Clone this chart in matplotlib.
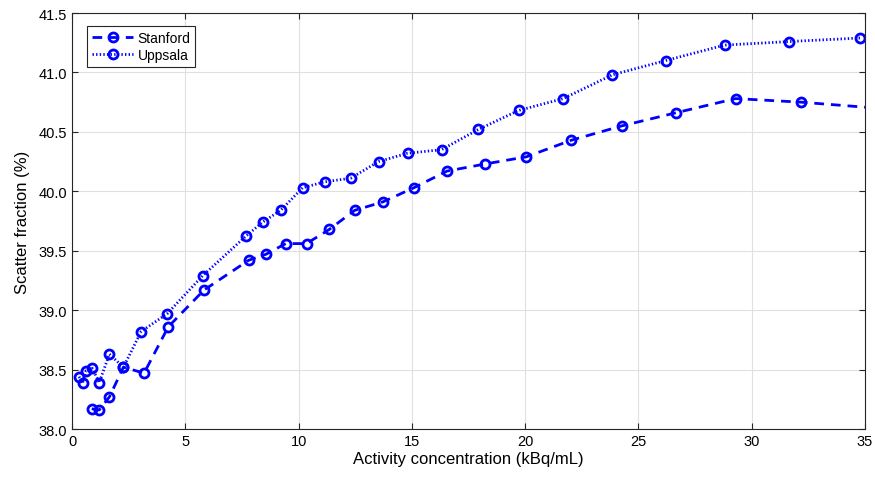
import numpy as np
import matplotlib
matplotlib.use("Agg")
import matplotlib.pyplot as plt
from matplotlib.ticker import FormatStrFormatter

plt.rcParams["font.family"] = ["Liberation Sans", "DejaVu Sans"]

# Activity concentration (kBq/mL) vs scatter fraction (%)
stanford_x = [0.87, 1.2, 1.65, 2.27, 3.18, 4.25, 5.83, 7.8, 8.56, 9.43, 10.35,
              11.36, 12.48, 13.71, 15.09, 16.55, 18.24, 20.05, 22.04, 24.26,
              26.64, 29.29, 32.17, 35.5]
stanford_y = [38.17, 38.16, 38.27, 38.52, 38.47, 38.86, 39.17, 39.42, 39.47,
              39.56, 39.56, 39.68, 39.84, 39.91, 40.03, 40.17, 40.23, 40.29,
              40.43, 40.55, 40.66, 40.78, 40.75, 40.70]

uppsala_x = [0.31, 0.47, 0.62, 0.9, 1.2, 1.65, 2.27, 3.05, 4.2, 5.77, 7.66,
             8.41, 9.21, 10.18, 11.16, 12.3, 13.53, 14.81, 16.31, 17.93, 19.71,
             21.68, 23.85, 26.2, 28.8, 31.66, 34.8]
uppsala_y = [38.44, 38.39, 38.49, 38.51, 38.39, 38.63, 38.52, 38.82, 38.97,
             39.29, 39.62, 39.74, 39.84, 40.03, 40.08, 40.11, 40.25, 40.32,
             40.35, 40.52, 40.68, 40.78, 40.98, 41.10, 41.23, 41.26, 41.29]

fig = plt.figure(figsize=(8.75, 4.85), dpi=100)
ax = fig.add_axes([0.0823, 0.1134, 0.9063, 0.8577])

ax.plot(stanford_x, stanford_y, linestyle=(0, (3.5, 2.5)), color="b", lw=2,
        marker="o", markersize=6.5, markerfacecolor="none", markeredgewidth=2,
        label="Stanford")
ax.plot(uppsala_x, uppsala_y, linestyle=(0, (0.5, 0.8)), color="b", lw=2,
        marker="o", markersize=6.5, markerfacecolor="none", markeredgewidth=2,
        label="Uppsala")

ax.set_xlim(0, 35)
ax.set_ylim(38, 41.5)
ax.set_xticks(np.arange(0, 36, 5))
ax.set_yticks(np.arange(38, 41.51, 0.5))
ax.yaxis.set_major_formatter(FormatStrFormatter("%.1f"))
ax.grid(True, color="#e0e0e0", lw=0.8)
ax.set_axisbelow(True)
ax.tick_params(direction="in", top=True, right=True, labelsize=10.5,
               length=4, color="#262626")
for s in ax.spines.values():
    s.set_color("#262626")
    s.set_linewidth(0.8)

ax.set_xlabel("Activity concentration (kBq/mL)", fontsize=12, labelpad=2)
ax.set_ylabel("Scatter fraction (%)", fontsize=12, labelpad=6)

leg = ax.legend(loc="upper left", bbox_to_anchor=(0.01, 0.985), fontsize=10,
                fancybox=False, edgecolor="#262626", framealpha=1,
                handlelength=3, borderpad=0.35, labelspacing=0.2,
                handletextpad=0.3)
leg.get_frame().set_linewidth(0.8)

fig.savefig("out.png", dpi=100)
